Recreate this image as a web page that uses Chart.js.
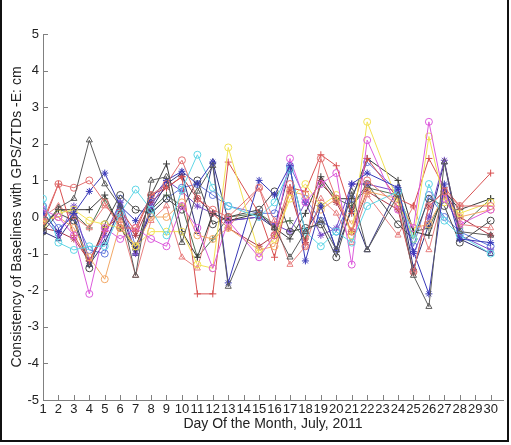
<!DOCTYPE html>
<html>
<head>
<meta charset="utf-8">
<script src="https://cdn.jsdelivr.net/npm/chart.js@4.4.1/dist/chart.umd.min.js"></script>
<style>
  html, body { margin: 0; padding: 0; background: #fff; }
  #wrap { position: relative; width: 511px; height: 445px; }
  #frame { position: absolute; left: 0; top: 0; width: 505px; height: 440px;
           border-left: 2px solid #111; border-right: 2px solid #111; border-bottom: 2px solid #111; pointer-events: none; }
</style>
</head>
<body>
<div id="wrap">
  <canvas id="consistencyChart" width="511" height="445"></canvas>
  <div id="frame"></div>
</div>
<script>
// day of month (no data on 14, 23, 29)
const days = [1,2,3,4,5,6,7,8,9,10,11,12,13,14,15,16,17,18,19,20,21,22,23,24,25,26,27,28,29,30];
const yTicks = [-5,-4,-3,-2,-1,0,1,2,3,4,5];

// one array per baseline, cm
const blackTriangle = [-0.3,0.25,0.5,2.1,0.9,0.3,-1.6,1.0,1.1,-0.7,0.7,1.4,-1.9,null,0.1,-0.3,-1.1,-0.4,-0.1,-0.9,0.7,-0.9,null,0.6,-1.6,-2.45,1.5,-0.4,null,-0.5];
const redCircle     = [-0.1,0.9,0.8,1.0,0.4,-0.3,-0.3,0.6,0.9,1.55,0.5,0.2,0.0,null,0.8,-0.5,0.9,-0.8,1.6,0.5,-0.4,1.0,null,0.3,-1.5,0.3,0.7,0.3,null,0.3];
const blueStar      = [0.1,-0.4,0.1,0.7,1.2,0.3,-0.1,0.5,1.0,1.25,0.9,1.5,-1.8,null,1.0,0.6,1.4,-1.2,0.3,-0.9,0.9,1.2,null,0.8,-0.95,-2.1,0.9,-0.6,null,-0.7];
const cyanCircle    = [0.5,-0.7,-0.9,-0.8,-0.8,0.1,0.75,0.2,-0.5,0.75,1.7,0.8,0.3,null,0.0,0.4,1.3,-0.4,-0.8,-0.4,-0.7,0.3,null,0.7,-0.6,0.9,-0.1,-0.5,null,-1.0];
const magentaCircle = [0.2,0.0,-0.5,-2.1,-0.3,-0.6,-0.3,-0.6,-0.8,0.3,-0.3,-1.4,-0.1,null,-1.1,-0.5,1.6,0.4,0.9,1.2,-1.3,2.1,null,0.2,-0.3,2.6,0.5,-0.2,null,0.2];
const yellowCircle  = [-0.2,0.1,0.2,-0.1,-0.2,-0.3,-0.8,-0.4,-0.4,-0.4,-1.3,-1.4,1.9,null,-1.0,-0.6,0.5,0.9,0.3,0.6,-0.5,2.6,null,0.4,-0.6,2.2,0.4,0.1,null,0.4];
const orangeCircle  = [-0.1,0.0,-0.3,-1.1,-1.7,-0.2,-0.8,0.0,0.0,0.4,-0.5,-0.6,-0.3,null,-0.9,-0.8,0.7,0.6,0.2,0.5,-0.2,0.7,null,0.5,-0.3,-0.2,0.6,0.0,null,0.2];
const redPlus       = [-0.2,0.9,-0.5,-1.2,-0.4,0.2,-0.4,0.6,0.8,1.1,-2.1,-2.1,1.5,null,0.1,-1.1,0.8,0.7,1.7,1.4,0.1,1.6,null,0.5,0.3,1.6,0.8,0.3,null,1.2];
const blackPlus     = [-0.3,0.2,0.2,0.2,0.6,-0.3,-0.9,0.6,1.45,-0.4,-1.1,0.1,-0.1,null,0.1,-0.3,-0.6,0.1,1.1,0.5,0.5,1.6,null,1.0,-0.4,-0.5,0.7,0.2,null,0.5];
const blackCircle   = [-0.4,0.1,-0.1,-1.4,-0.2,0.6,0.2,0.1,0.5,0.2,1.0,-0.2,0.0,null,0.2,0.7,-0.4,-0.3,-0.2,-1.1,0.3,0.9,null,-0.2,-0.6,0.5,0.3,-0.7,null,-0.1];
const redTriangle   = [0.0,0.3,0.0,-0.3,0.3,-0.1,-1.6,-0.1,0.3,-1.1,-1.4,0.1,-0.3,null,0.8,-0.1,-1.3,-0.8,0.5,0.1,-0.7,0.6,null,-0.5,0.3,-0.9,0.7,-0.2,null,-0.3];
const purpleStar    = [0.0,-0.5,0.3,-1.2,-0.5,0.4,-1.0,0.3,1.0,0.7,0.3,0.1,-0.1,null,0.0,-0.2,-0.4,0.4,-0.5,-0.3,0.9,0.9,null,0.7,-1.0,0.0,1.55,-0.5,null,-0.9];
const navyTriangle  = [-0.4,-0.6,0.0,-1.3,-0.7,0.2,-1.0,0.2,0.9,1.2,-0.4,1.5,-0.1,null,0.0,-0.3,1.3,-0.4,0.3,-0.9,0.2,-0.9,null,0.8,-1.4,-0.2,1.5,-0.6,null,-1.0];
const darkRedStar   = [-0.3,-0.4,-0.6,-1.2,-0.3,0.0,-0.5,0.4,0.8,1.1,0.5,0.1,-0.3,null,-0.8,-0.5,0.7,-0.7,1.0,0.4,-0.4,0.7,null,0.2,-1.5,0.3,0.7,0.0,null,-0.5];
const greenPlus     = [-0.2,0.2,0.1,-0.3,0.5,-0.3,-0.8,0.2,0.6,0.3,-1.1,-0.6,0.0,null,0.1,-0.2,-0.1,-0.6,0.9,0.5,0.3,0.8,null,0.6,-0.4,-0.3,0.6,-0.3,null,0.5];
const blueCircle    = [0.3,-0.3,0.0,-0.9,-1.0,0.5,-0.8,0.1,0.5,0.8,0.9,0.6,0.3,null,0.1,0.1,1.4,0.5,-0.1,-0.4,0.5,1.5,null,0.7,-0.8,0.6,0.0,-0.4,null,-0.8];

function series(values, color, marker) {
    return {
        data: days.map((d, i) => ({ x: d, y: values[i] })),
        borderColor: color,
        borderWidth: 1,
        pointStyle: marker,
        pointRadius: 3.5,
        pointBorderWidth: 1,
        pointBorderColor: color,
        pointBackgroundColor: 'rgba(255,255,255,0)',
        spanGaps: true,
        tension: 0
    };
}

// inward tick marks, matlab style
const innerTicks = {
    id: 'innerTicks',
    afterDraw(chart) {
        const c = chart.ctx, xs = chart.scales.x, ys = chart.scales.y;
        c.save();
        c.strokeStyle = '#808080';
        c.lineWidth = 1;
        c.beginPath();
        yTicks.forEach(v => {
            const y = Math.round(ys.getPixelForValue(v)) + 0.5;
            c.moveTo(xs.left, y); c.lineTo(xs.left + 5, y);
        });
        days.forEach(d => {
            const x = Math.round(xs.getPixelForValue(d)) + 0.5;
            c.moveTo(x, ys.bottom); c.lineTo(x, ys.bottom - 5);
        });
        c.stroke();
        c.restore();
    }
};

const ctx = document.getElementById('consistencyChart').getContext('2d');
new Chart(ctx, {
    type: 'line',
    data: {
        datasets: [
            series(blackTriangle, '#5a5a5a', 'triangle'),
            series(redCircle, '#e27070', 'circle'),
            series(blueStar, '#3838b8', 'star'),
            series(cyanCircle, '#5fd6e6', 'circle'),
            series(magentaCircle, '#dc5cdc', 'circle'),
            series(yellowCircle, '#f2e255', 'circle'),
            series(orangeCircle, '#f2a866', 'circle'),
            series(redPlus, '#d85050', 'cross'),
            series(blackPlus, '#3a3a3a', 'cross'),
            series(blackCircle, '#4a4a4a', 'circle'),
            series(redTriangle, '#e88080', 'triangle'),
            series(purpleStar, '#7448c8', 'star'),
            series(navyTriangle, '#30307a', 'triangle'),
            series(darkRedStar, '#b03848', 'star'),
            series(greenPlus, '#4f6f4f', 'cross'),
            series(blueCircle, '#6278dc', 'circle')
        ]
    },
    options: {
        responsive: false,
        animation: false,
        layout: { padding: { top: 34, right: 8, left: 0, bottom: 0 } },
        plugins: { legend: { display: false }, tooltip: { enabled: false } },
        scales: {
            x: {
                type: 'linear',
                min: 1,
                max: 30.8,
                afterFit: s => { s.height = 45; },
                afterBuildTicks: s => { s.ticks = days.map(d => ({ value: d })); },
                grid: { display: true, drawOnChartArea: false, drawTicks: false },
                border: { display: true, color: '#808080', width: 1 },
                ticks: {
                    autoSkip: false, maxRotation: 0, padding: 2,
                    color: '#222', font: { family: 'Liberation Sans', size: 13 }
                },
                title: {
                    display: true, text: 'Day Of the Month, July, 2011',
                    color: '#222', font: { family: 'Liberation Sans', size: 14 },
                    padding: { top: 1, bottom: 12 }
                }
            },
            y: {
                min: -5,
                max: 5,
                afterFit: s => { s.width = 43; },
                afterBuildTicks: s => { s.ticks = yTicks.map(v => ({ value: v })); },
                grid: { display: true, drawOnChartArea: false, drawTicks: false },
                border: { display: true, color: '#808080', width: 1 },
                ticks: {
                    padding: 4, color: '#222',
                    font: { family: 'Liberation Sans', size: 13 }
                },
                title: {
                    display: true, text: 'Consistency of Baselines with GPS/ZTDs -E: cm',
                    color: '#222', font: { family: 'Liberation Sans', size: 14 },
                    padding: { top: 9, bottom: 0 }
                }
            }
        }
    },
    plugins: [innerTicks]
});
</script>
</body>
</html>
